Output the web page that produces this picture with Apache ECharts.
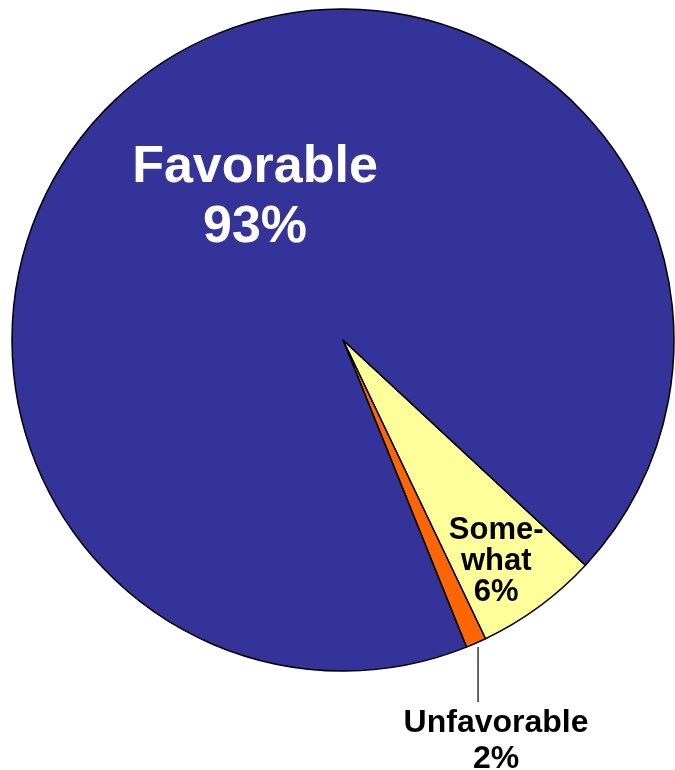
<!DOCTYPE html>
<html>
<head>
<meta charset="utf-8">
<script src="https://cdn.jsdelivr.net/npm/echarts@6/dist/echarts.min.js"></script>
<style>
html,body{margin:0;padding:0;background:#fff;}
#chart{width:675px;height:770px;}
</style>
</head>
<body>
<div id="chart"></div>
<script>
// Data (clockwise order starting at the lower right)
const categories = ['Some-\nwhat', 'Unfavorable', 'Favorable'];
const values = [6, 1, 93];               // slice sizes
const percentLabels = ['6%', '2%', '93%']; // printed labels
const colors = ['#FFFF99', '#FF6600', '#333399'];

const chart = echarts.init(document.getElementById('chart'), null, {renderer: 'canvas'});

const FONT = '"Liberation Sans", Arial, sans-serif';

const data = categories.map((c, i) => ({
  name: c,
  value: values[i],
  itemStyle: {color: colors[i]}
}));
// per-slice label styles
data[0].label = {position: 'inside', fontSize: 31, lineHeight: 31, color: '#000'};
data[0].labelLine = {show: false};
data[1].label = {position: 'outside', fontSize: 32, lineHeight: 36, color: '#000'};
data[1].labelLine = {show: true, length: 40, length2: 0, lineStyle: {color: '#000', width: 1.2}};
data[2].label = {position: 'inside', fontSize: 52, lineHeight: 60, color: '#fff'};
data[2].labelLine = {show: false};

chart.setOption({
  animation: false,
  backgroundColor: '#fff',
  series: [{
    type: 'pie',
    center: [343, 340],
    radius: [0, 331],
    startAngle: -42.9,
    clockwise: true,
    avoidLabelOverlap: false,
    itemStyle: {borderColor: '#000', borderWidth: 1.5},
    emphasis: {disabled: true},
    label: {
      show: true,
      fontFamily: FONT,
      fontWeight: 'bold',
      align: 'center',
      formatter: p => p.name + '\n' + percentLabels[p.dataIndex]
    },
    labelLayout: function (p) {
      const r = p.rect;
      const cx = r.x + r.width / 2, cy = r.y + r.height / 2;
      if (p.dataIndex === 2) {
        return {x: cx - 88, y: cy - 142, align: 'center', verticalAlign: 'middle'};
      }
      if (p.dataIndex === 0) {
        return {x: cx + 32, y: cy + 72, align: 'center', verticalAlign: 'middle'};
      }
      if (p.dataIndex === 1 && p.labelLinePoints) {
        const x0 = p.labelLinePoints[0][0], y0 = p.labelLinePoints[0][1];
        return {
          x: x0 + 20, y: y0 + 62, align: 'center', verticalAlign: 'top',
          labelLinePoints: [[x0 + 2, y0 + 4], [x0 + 2, y0 + 59], [x0 + 2, y0 + 59]]
        };
      }
    },
    data: data
  }]
});
</script>
</body>
</html>
